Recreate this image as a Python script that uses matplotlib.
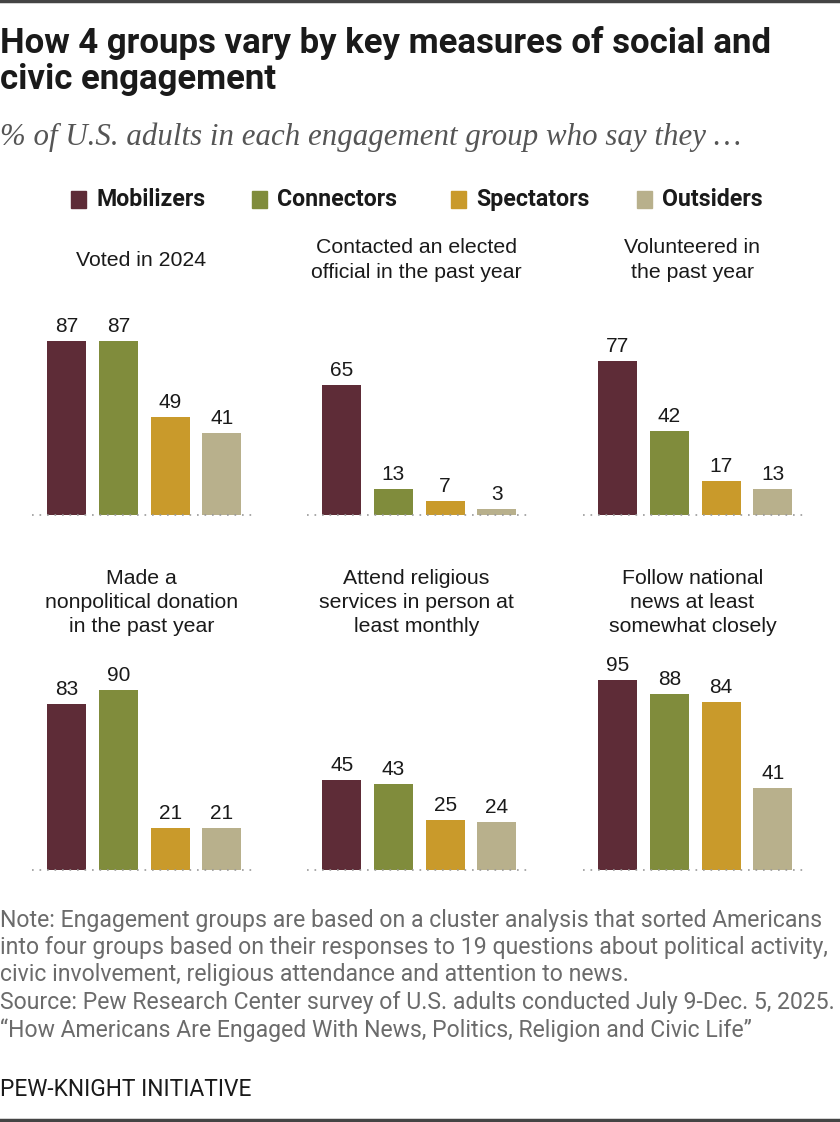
import matplotlib
matplotlib.use("Agg")
import matplotlib.pyplot as plt
from matplotlib.patches import Rectangle

groups = ["Mobilizers", "Connectors", "Spectators", "Outsiders"]
colors = ["#5e2c37", "#808c3c", "#c99a2b", "#b8b08c"]

panel_titles = [
    "Voted in 2024",
    "Contacted an elected\nofficial in the past year",
    "Volunteered in\nthe past year",
    "Made a\nnonpolitical donation\nin the past year",
    "Attend religious\nservices in person at\nleast monthly",
    "Follow national\nnews at least\nsomewhat closely",
]
voted = [87, 87, 49, 41]
contacted = [65, 13, 7, 3]
volunteered = [77, 42, 17, 13]
donation = [83, 90, 21, 21]
religious = [45, 43, 25, 24]
news = [95, 88, 84, 41]
panel_values = [voted, contacted, volunteered, donation, religious, news]

W, H = 840, 1122
fig = plt.figure(figsize=(W / 100, H / 100), dpi=100)
renderer = fig.canvas.get_renderer()

COND = ["Roboto", "DejaVu Sans"]
SANS = ["Liberation Sans", "DejaVu Sans"]
SERIF = ["Liberation Serif", "DejaVu Serif"]


def fx(px):
    return px / W


def fy(py):
    return 1 - py / H


def fit_size(s, target, **kw):
    t = fig.text(0, 0, s, fontsize=20, **kw)
    w = t.get_window_extent(renderer=renderer).width
    t.remove()
    return 20 * target / w


# top and bottom rules
fig.add_artist(plt.Line2D([0, 1], [fy(1), fy(1)], color="#444444", lw=2.5, transform=fig.transFigure))
fig.add_artist(plt.Line2D([0, 1], [fy(1120), fy(1120)], color="#444444", lw=2.5, transform=fig.transFigure))

# title
title1 = "How 4 groups vary by key measures of social and"
title2 = "civic engagement"
ts = fit_size(title1, 769, family=COND, weight="bold")
for txt, yc in [(title1, 43), (title2, 80)]:
    fig.text(fx(0), fy(yc), txt, family=COND, weight="bold", fontsize=ts,
             color="#1a1a1a", va="center", ha="left")

subtitle = "% of U.S. adults in each engagement group who say they \u2026"
ss = fit_size(subtitle, 739, family=SERIF, style="italic")
fig.text(fx(0), fy(145), subtitle, family=SERIF, style="italic", fontsize=ss,
         color="#555555", va="baseline", ha="left")

# legend
leg_sq_x = [71, 252, 451, 637]
ls = fit_size(groups[0], 109, family=COND, weight="bold")
for g, c, x in zip(groups, colors, leg_sq_x):
    fig.add_artist(Rectangle((fx(x), fy(208)), fx(15), 17 / H, color=c, transform=fig.transFigure))
    fig.text(fx(x + 25), fy(206), g, family=COND, weight="bold", fontsize=ls,
             color="#1a1a1a", va="baseline", ha="left")

panel_left = [32, 307, 583]
panel_w = 225
row_base = [515, 870]
title_centers = [[[260], [247, 272], [247, 272]], [[578, 602, 626]] * 3]

for i, (ttl, vals) in enumerate(zip(panel_titles, panel_values)):
    r, c = divmod(i, 3)
    left = panel_left[c]
    base = row_base[r]
    ax = fig.add_axes([fx(left), fy(base), fx(panel_w), 200 / H])
    xs = range(len(vals))
    ax.bar(xs, vals, width=0.755, color=colors, zorder=2)
    for x, v in zip(xs, vals):
        ax.text(x, v + 4.5, str(v), ha="center", va="baseline", family=SANS, fontsize=15,
                color="#1a1a1a", clip_on=False)
    ax.set_xlim(-0.67, 3.68)
    ax.set_ylim(0, 100)
    ax.axhline(0, color="#9a9a9a", lw=1.2, ls=(0, (1, 3.5)), clip_on=False, zorder=3)
    ax.axis("off")
    lines = ttl.split("\n")
    ycs = title_centers[r][c]
    for line, yc in zip(lines, ycs):
        fig.text(fx(left + panel_w / 2 - 3), fy(yc), line, family=SANS, fontsize=15.3,
                 color="#1a1a1a", ha="center", va="center")

notes = [
    "Note: Engagement groups are based on a cluster analysis that sorted Americans",
    "into four groups based on their responses to 19 questions about political activity,",
    "civic involvement, religious attendance and attention to news.",
    "Source: Pew Research Center survey of U.S. adults conducted July 9-Dec. 5, 2025.",
    "\u201cHow Americans Are Engaged With News, Politics, Religion and Civic Life\u201d",
]
ns = fit_size(notes[3], 831, family=COND)
for k, line in enumerate(notes):
    fig.text(fx(0), fy(920 + k * 27.5), line, family=COND, fontsize=ns, color="#6b6b6b",
             va="center", ha="left")
ps = fit_size("PEW-KNIGHT INITIATIVE", 252, family=COND)
fig.text(fx(0), fy(1089), "PEW-KNIGHT INITIATIVE", family=COND, fontsize=ps,
         color="#1a1a1a", va="center", ha="left")

fig.savefig("out.png", dpi=100)
